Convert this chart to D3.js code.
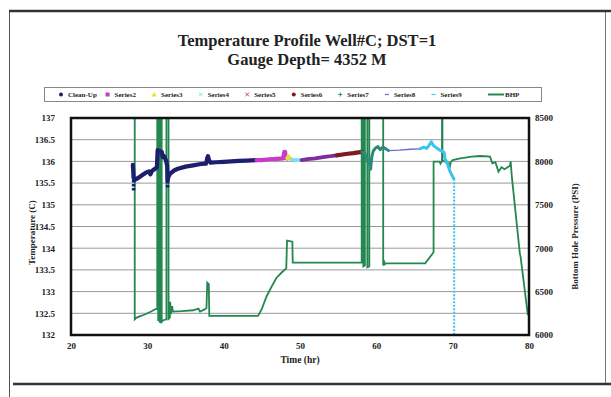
<!DOCTYPE html>
<html>
<head>
<meta charset="utf-8">
<script src="https://cdn.jsdelivr.net/npm/d3@7"></script>
<style>
  html, body { margin: 0; padding: 0; background: #fff; }
  svg { display: block; }
  text { font-family: "Liberation Serif", "Times New Roman", serif; font-weight: bold; fill: #222; }
</style>
</head>
<body>
<svg id="chart" width="611" height="397"></svg>
<script>
// ---- data ----------------------------------------------------------------
const titleLines = ["Temperature Profile Well#C; DST=1", "Gauge Depth= 4352 M"];
const xTicks = [20, 30, 40, 50, 60, 70, 80];
const tempTicks = [132, 132.5, 133, 133.5, 134, 134.5, 135, 135.5, 136, 136.5, 137];
const bhpTicks = [6000, 6500, 7000, 7500, 8000, 8500];

// temperature series: [time (hr), temperature (C)]
const cleanUp = [
  [28.1, 135.92], [28.15, 135.80], [28.2, 135.62], [28.35, 135.57], [28.8, 135.62],
  [29.3, 135.68], [29.8, 135.74], [30.2, 135.77], [30.4, 135.70], [30.6, 135.78],
  [31.0, 135.83], [31.25, 135.86], [31.35, 136.26], [31.9, 136.22], [32.0, 136.10],
  [32.2, 136.12], [32.45, 136.02], [32.6, 135.90], [32.65, 135.55], [32.75, 135.64],
  [33.0, 135.72], [33.5, 135.79], [34.0, 135.83], [35.0, 135.88], [36.0, 135.91],
  [37.0, 135.94], [37.7, 135.95], [37.85, 136.08], [37.95, 136.12], [38.1, 136.02],
  [38.3, 135.97], [39.0, 135.98], [40.0, 135.99], [41.0, 136.00], [42.0, 136.01],
  [43.0, 136.02], [44.3, 136.03]
];
// dotted drops within Clean-Up: [time, from, to]
const cleanUpDrops = [[28.2, 135.57, 135.30], [32.65, 135.55, 135.38]];
const series2 = [
  [44.3, 136.03], [45.0, 136.03], [46.0, 136.05], [47.0, 136.06], [47.8, 136.07],
  [47.95, 136.22], [48.05, 136.22], [48.1, 136.08], [48.3, 136.07]
];
const series3 = [[48.3, 136.07], [48.5, 136.12], [48.7, 136.06], [48.9, 136.04]];
const series4 = [[48.9, 136.04], [49.5, 136.03], [50.2, 136.03]];
const series5 = [
  [50.2, 136.03], [51.0, 136.05], [52.0, 136.07], [53.0, 136.10], [54.0, 136.12], [54.8, 136.14]
];
const series6 = [[54.8, 136.14], [56.0, 136.17], [57.0, 136.19], [58.1, 136.22]];
const series7 = [
  [58.1, 136.22], [58.5, 136.18], [58.8, 136.02], [59.0, 135.95], [59.15, 136.05],
  [59.25, 135.82], [59.4, 136.10], [59.6, 136.24], [59.9, 136.31], [60.2, 136.34],
  [60.5, 136.27], [60.7, 136.31], [60.9, 136.33], [61.2, 136.29], [61.6, 136.25]
];
const series8 = [[61.6, 136.25], [63.0, 136.26], [64.5, 136.28], [65.7, 136.29]];
const series9 = [
  [65.7, 136.29], [66.2, 136.33], [66.6, 136.30], [66.9, 136.37], [67.2, 136.45],
  [67.5, 136.36], [68.0, 136.30], [68.3, 136.26], [68.6, 136.24], [68.9, 136.20],
  [69.0, 136.05], [69.2, 136.00], [69.4, 135.90], [69.65, 135.77], [69.9, 135.68], [70.15, 135.60]
];
const series9Drop = [[70.2, 135.60], [70.2, 132.0]];

// bottom hole pressure: [time (hr), pressure (PSI)]; 8600 runs past the top of the axis
const bhp = [
  [28.35, 8600], [28.35, 6180], [28.6, 6200], [29.0, 6215], [29.5, 6230], [30.0, 6250],
  [30.5, 6270], [31.0, 6296], [31.3, 6300], [31.3, 8600], [31.42, 8600], [31.42, 6160],
  [31.52, 6250], [31.52, 8600], [31.64, 8600], [31.64, 6140], [31.76, 6300], [31.76, 8600],
  [31.88, 8600], [31.88, 6150], [32.1, 6170], [32.5, 6180], [32.5, 8600], [32.78, 8600],
  [32.78, 6185], [32.95, 6200], [33.0, 6384], [33.08, 6240], [33.25, 6334], [33.35, 6270],
  [34.5, 6275], [36.0, 6285], [36.7, 6305], [36.9, 6270], [37.5, 6295], [37.75, 6310],
  [37.85, 6603], [38.05, 6585], [38.12, 6220], [44.5, 6220], [45.0, 6300], [45.6, 6441],
  [46.3, 6560], [46.9, 6657], [47.6, 6720], [48.2, 6768], [48.3, 7087], [49.0, 7075],
  [49.05, 6833], [58.08, 6833], [58.08, 8600], [58.3, 8600], [58.3, 6790], [58.5, 6800],
  [58.5, 8600], [58.82, 8600], [58.82, 6780], [59.08, 6790], [59.08, 8600], [60.9, 8600],
  [60.9, 6800], [61.0, 6860], [61.1, 6815], [61.3, 6826], [66.4, 6826], [67.5, 6953],
  [67.5, 7997], [68.3, 7997], [68.4, 7975], [68.6, 8000], [68.6, 8600], [68.66, 8600],
  [68.66, 8016], [69.2, 7985], [69.45, 7985], [69.6, 7920], [69.75, 7990], [70.0, 8016],
  [71.0, 8035], [72.5, 8055], [73.6, 8062], [74.9, 8055], [75.2, 7978], [75.6, 7990],
  [76.0, 7881], [76.4, 7932], [76.8, 7910], [77.5, 7950], [77.6, 8000], [77.75, 7824],
  [78.8, 6941], [78.9, 6900], [79.85, 6230]
];

const legendItems = [
  { name: "Clean-Up", color: "#1c1f6e", marker: "circle" },
  { name: "Series2", color: "#c63cc6", marker: "square" },
  { name: "Series3", color: "#eedd30", marker: "triangle" },
  { name: "Series4", color: "#80e0f2", marker: "cross" },
  { name: "Series5", color: "#b8408e", marker: "cross" },
  { name: "Series6", color: "#7d1a22", marker: "circle" },
  { name: "Series7", color: "#2b8a78", marker: "plus" },
  { name: "Series8", color: "#6a6ad2", marker: "dash" },
  { name: "Series9", color: "#3cc4ef", marker: "dash" },
  { name: "BHP", color: "#23874f", marker: "line" }
];

// ---- layout ---------------------------------------------------------------
const svg = d3.select("#chart");
const plot = { left: 71, right: 529, top: 118, bottom: 335 };

const x = d3.scaleLinear().domain([20, 80]).range([plot.left, plot.right]);
const yT = d3.scaleLinear().domain([132, 137]).range([plot.bottom, plot.top]);
const yP = d3.scaleLinear().domain([6000, 8500]).range([plot.bottom, plot.top]);

// outer frame
const frame = svg.append("g");
frame.append("line").attr("x1", 9.5).attr("x2", 9.5).attr("y1", 10).attr("y2", 397)
  .attr("stroke", "#555").attr("stroke-width", 1);
frame.append("line").attr("x1", 605.5).attr("x2", 605.5).attr("y1", 10).attr("y2", 385)
  .attr("stroke", "#777").attr("stroke-width", 1);
frame.append("line").attr("x1", 9).attr("x2", 611).attr("y1", 11).attr("y2", 11)
  .attr("stroke", "#333").attr("stroke-width", 2.5);
frame.append("line").attr("x1", 13).attr("x2", 611).attr("y1", 384).attr("y2", 384)
  .attr("stroke", "#333").attr("stroke-width", 2.5);

// title
svg.append("text").attr("x", 307).attr("y", 46).attr("text-anchor", "middle")
  .style("font-size", "16.5px").text(titleLines[0]);
svg.append("text").attr("x", 307).attr("y", 65).attr("text-anchor", "middle")
  .style("font-size", "16.5px").text(titleLines[1]);

// gridlines
svg.append("g").selectAll("line")
  .data(tempTicks.filter(t => t > 132 && t < 137))
  .join("line")
  .attr("x1", plot.left).attr("x2", plot.right)
  .attr("y1", d => yT(d)).attr("y2", d => yT(d))
  .attr("stroke", "#999").attr("stroke-width", 1);

// axes
const fmtTemp = d => (Number.isInteger(d) ? d3.format("d")(d) : d3.format(".1f")(d));
const axisL = svg.append("g").attr("transform", `translate(${plot.left - 9},0)`)
  .call(d3.axisLeft(yT).tickValues(tempTicks).tickFormat(fmtTemp).tickSize(0).tickPadding(7));
const axisR = svg.append("g").attr("transform", `translate(${plot.right},0)`)
  .call(d3.axisRight(yP).tickValues(bhpTicks).tickFormat(d3.format("d")).tickSize(0).tickPadding(6));
const axisB = svg.append("g").attr("transform", `translate(0,${plot.bottom})`)
  .call(d3.axisBottom(x).tickValues(xTicks).tickFormat(d3.format("d")).tickSize(0).tickPadding(8));
[axisL, axisR, axisB].forEach(a => {
  a.select(".domain").remove();
  a.selectAll("text").style("font-size", "9px").style("font-family", null);
});

// axis titles
svg.append("text").attr("transform", `translate(35,${(plot.top + plot.bottom) / 2 + 6}) rotate(-90)`)
  .attr("text-anchor", "middle").style("font-size", "9px").text("Temperature (C)");
svg.append("text").attr("transform", `translate(578,${(plot.top + plot.bottom) / 2 + 10}) rotate(-90)`)
  .attr("text-anchor", "middle").style("font-size", "9px").text("Bottom Hole Pressure (PSI)");
svg.append("text").attr("x", (plot.left + plot.right) / 2).attr("y", 363)
  .attr("text-anchor", "middle").style("font-size", "9.5px").text("Time (hr)");

// clip for plotted data
svg.append("clipPath").attr("id", "plotClip").append("rect")
  .attr("x", plot.left).attr("y", plot.top)
  .attr("width", plot.right - plot.left).attr("height", plot.bottom - plot.top);
const data = svg.append("g").attr("clip-path", "url(#plotClip)");

const lineT = d3.line().x(d => x(d[0])).y(d => yT(d[1]));
const lineP = d3.line().x(d => x(d[0])).y(d => yP(d[1]));

// BHP on right axis
data.append("path").datum(bhp).attr("d", lineP)
  .attr("fill", "none").attr("stroke", "#23874f").attr("stroke-width", 1.8)
  .attr("stroke-linejoin", "miter");

// temperature series
const tempSeries = [
  { pts: cleanUp, color: "#1c1f6e", w: 4.2 },
  { pts: series2, color: "#c63cc6", w: 4.2 },
  { pts: series3, color: "#eedd30", w: 3.6 },
  { pts: series4, color: "#80e0f2", w: 3.6 },
  { pts: series5, color: "#7d2e9c", w: 3.8 },
  { pts: series6, color: "#7d1a22", w: 4.2 },
  { pts: series7, color: "#2b8a78", w: 3.0 },
  { pts: series8, color: "#6a6ad2", w: 1.3 },
  { pts: series9, color: "#3cc4ef", w: 3.0 }
];
tempSeries.forEach(s => {
  data.append("path").datum(s.pts).attr("d", lineT)
    .attr("fill", "none").attr("stroke", s.color).attr("stroke-width", s.w)
    .attr("stroke-linejoin", "round").attr("stroke-linecap", "round");
});

// dotted drops
data.selectAll(".drop").data(cleanUpDrops).join("line")
  .attr("x1", d => x(d[0])).attr("x2", d => x(d[0]))
  .attr("y1", d => yT(d[1])).attr("y2", d => yT(d[2]))
  .attr("stroke", "#1c1f6e").attr("stroke-width", 3.5).attr("stroke-dasharray", "2.5,1.5");
data.append("path").datum(series9Drop).attr("d", lineT)
  .attr("fill", "none").attr("stroke", "#3cc4ef").attr("stroke-width", 2)
  .attr("stroke-dasharray", "2,1.5");

// plot frame
svg.append("rect").attr("x", plot.left).attr("y", plot.top)
  .attr("width", plot.right - plot.left).attr("height", plot.bottom - plot.top)
  .attr("fill", "none").attr("stroke", "#111").attr("stroke-width", 2.5);

// legend
const leg = svg.append("g");
leg.append("rect").attr("x", 44.5).attr("y", 87.5).attr("width", 497).attr("height", 14)
  .attr("fill", "#fff").attr("stroke", "#888").attr("stroke-width", 1);
const legX = d3.scalePoint().domain(legendItems.map(d => d.name)).range([61, 480]);
const li = leg.selectAll("g.item").data(legendItems).join("g")
  .attr("transform", d => `translate(${legX(d.name)},94.5)`);
li.each(function (d) {
  const g = d3.select(this);
  if (d.marker === "circle") g.append("circle").attr("r", 2).attr("fill", d.color);
  else if (d.marker === "square") g.append("rect").attr("x", -2).attr("y", -2).attr("width", 4).attr("height", 4).attr("fill", d.color);
  else if (d.marker === "triangle") g.append("path").attr("d", "M0,-2.5L2.5,2L-2.5,2Z").attr("fill", d.color);
  else if (d.marker === "cross") g.append("path").attr("d", "M-1.8,-1.8L1.8,1.8M-1.8,1.8L1.8,-1.8").attr("stroke", d.color).attr("stroke-width", 1);
  else if (d.marker === "plus") g.append("path").attr("d", "M-2,0H2M0,-2V2").attr("stroke", d.color).attr("stroke-width", 1);
  else if (d.marker === "dash") g.append("path").attr("d", "M-2,0H2").attr("stroke", d.color).attr("stroke-width", 1.2);
  else if (d.marker === "line") g.append("path").attr("d", "M8,0H24").attr("stroke", d.color).attr("stroke-width", 2);
  g.append("text").attr("x", d.marker === "line" ? 25 : 7).attr("y", 2.5)
    .style("font-size", "7px").text(d.name);
});
</script>
</body>
</html>
